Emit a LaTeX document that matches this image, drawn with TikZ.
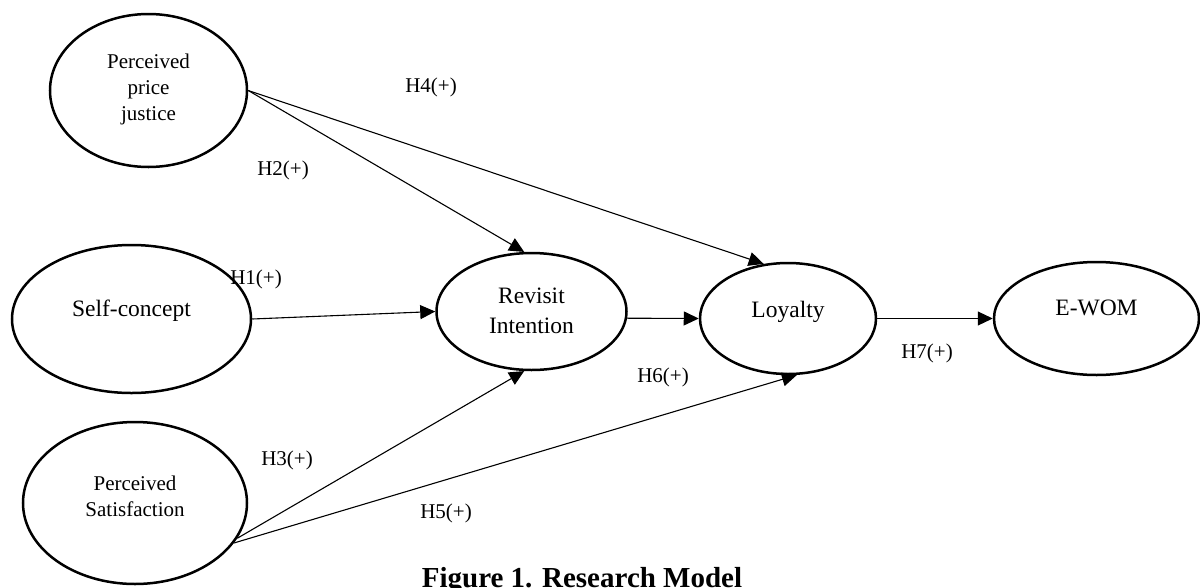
\documentclass[tikz,border=0pt]{standalone}
\usepackage{fontspec}
\setmainfont{Liberation Serif}
\usetikzlibrary{shapes.geometric,arrows.meta}
\begin{document}
\begin{tikzpicture}[x=1pt,y=-1pt,
  oval/.style={draw,ellipse,line width=2.5pt,inner sep=0pt},
  conn/.style={line width=1.1pt,-{Triangle[length=15pt,width=14pt]}},
  hyp/.style={font=\fontsize{21}{25}\selectfont,inner sep=0pt},
  big/.style={font=\fontsize{23.5}{30}\selectfont,align=center,inner sep=0pt},
  small/.style={font=\fontsize{21}{26}\selectfont,align=center,inner sep=0pt},
  capt/.style={font=\bfseries\fontsize{29}{34}\selectfont,anchor=base,inner sep=0pt}]
\useasboundingbox (0,0) rectangle (1200,587);
% constructs
\node[oval,minimum width=197pt,minimum height=153pt] (ppj) at (148.5,90.5) {};
\node[oval,minimum width=239pt,minimum height=148pt] (sc) at (131.5,319) {};
\node[oval,minimum width=224pt,minimum height=162pt] (ps) at (135,503) {};
\node[oval,minimum width=190pt,minimum height=117pt] (rev) at (531.5,311.5) {};
\node[oval,minimum width=176pt,minimum height=111pt] (loy) at (788,318.5) {};
\node[oval,minimum width=205pt,minimum height=113pt] (ewom) at (1096.5,318.5) {};
% texts
\node[small] (ppjt) at (148.5,89) {Perceived\\price\\justice};
\node[big] (sct) at (131.5,311) {Self-concept};
\node[small] (pst) at (135,496) {Perceived\\Satisfaction};
\node[big] (revt) at (531.5,311) {Revisit\\Intention};
\node[big] (loyt) at (788,312) {Loyalty};
\node[big] (ewomt) at (1096.5,308) {E-WOM};
% connectors
\draw[conn] (ppj.east) -- (rev.97);
\draw[conn] (ppj.east) -- (loy.114);
\draw[conn] (sc.east) -- (rev.west);
\draw[conn] (rev.-4) -- (loy.west);
\draw[conn] (loy.east) -- (ewom.west);
\draw[conn] (ps.-19) -- (rev.-97);
\draw[conn] (ps.-22) -- (loy.-81);
% hypothesis labels
\node[hyp] (h4) at (431,87) {H4(+)};
\node[hyp] (h2) at (283,170) {H2(+)};
\node[hyp] (h1) at (256,279) {H1(+)};
\node[hyp] (h3) at (287,460) {H3(+)};
\node[hyp] (h5) at (446,513) {H5(+)};
\node[hyp] (h6) at (663,377) {H6(+)};
\node[hyp] (h7) at (927,353) {H7(+)};
% caption
\node[capt] (cap) at (582,587) {Figure 1. Research Model};
\end{tikzpicture}
\end{document}
